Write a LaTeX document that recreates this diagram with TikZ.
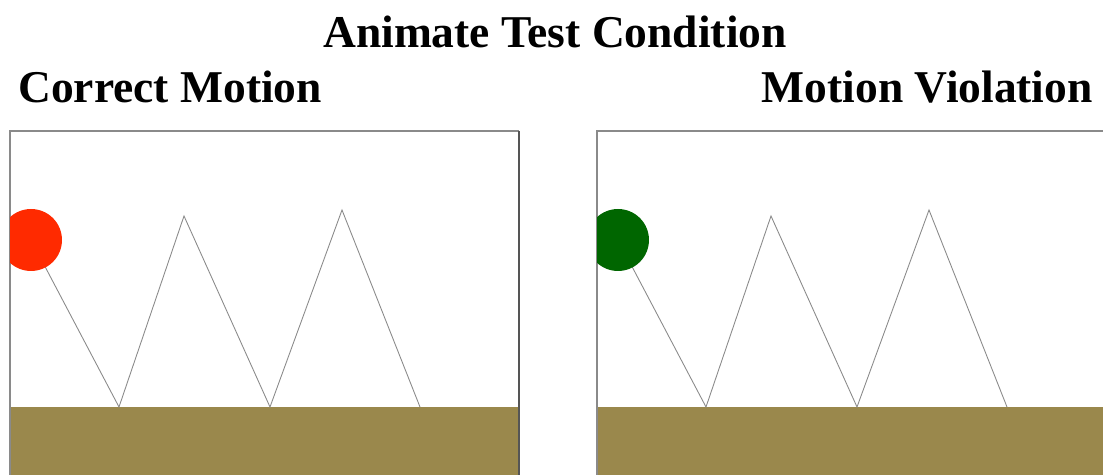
\documentclass[tikz,border=0pt]{standalone}
\usepackage{fontspec}
\setmainfont{Liberation Serif}
\usetikzlibrary{positioning}
\definecolor{groundcol}{HTML}{9A884C}
\definecolor{ballred}{HTML}{FF2A00}
\definecolor{ballgreen}{HTML}{006600}
\definecolor{framegray}{HTML}{8A8A8A}
\definecolor{edgedark}{HTML}{555555}

\begin{document}
\begin{tikzpicture}[x=0.02cm, y=-0.02cm, every node/.style={font=\fontsize{25.9}{30}\selectfont\bfseries, inner sep=0pt}]
        \useasboundingbox (0,0) rectangle (1103,475);
        \clip (0,0) rectangle (1103,475);

        % Headings
        \node (title) [anchor=base] at (555,48) {Animate Test Condition};
        \node (correct) [anchor=base west] at (18,103) {Correct Motion};
        \node (violation) [anchor=base east] at (1093,103) {Motion Violation};

        % Two panels: ground, frame, bounce path and ball
        \foreach \dx/\ballcol in {0/ballred, 587/ballgreen} {
          \begin{scope}[shift={(\dx,0)}]
            \fill[groundcol] (10,407) rectangle (519,480);
            \draw[framegray, line width=0.8pt] (10,480) -- (10,131) -- (519,131);
            \draw[edgedark, line width=0.8pt] (519,131) -- (519,480);
            \draw[framegray, line width=0.5pt] (31,240) -- (119,407) -- (184,216)
              -- (270,407) -- (342,210) -- (420,407);
            \begin{scope}
              \clip (10,131) rectangle (519,480);
              \fill[\ballcol] (31,240) circle[radius=0.62cm];
            \end{scope}
          \end{scope}
        }
      \end{tikzpicture}
\end{document}
